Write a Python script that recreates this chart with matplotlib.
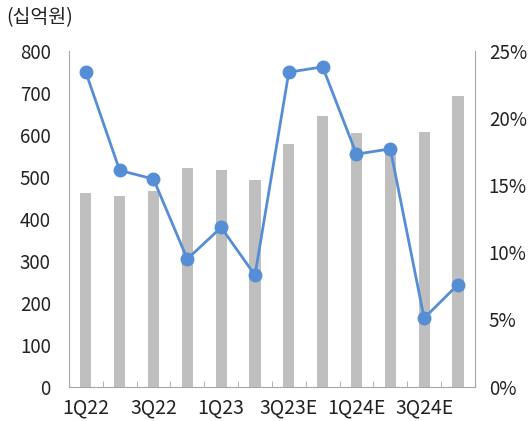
import matplotlib.pyplot as plt
import numpy as np

plt.rcParams['font.family'] = ['Noto Sans CJK KR', 'DejaVu Sans']

quarters = ['1Q22', '2Q22', '3Q22', '4Q22', '1Q23', '2Q23',
            '3Q23E', '4Q23E', '1Q24E', '2Q24E', '3Q24E', '4Q24E']
# 매출 (십억원)
sales = [462, 453, 467, 520, 516, 491, 578, 644, 605, 570, 607, 693]
# 이익률 (%)
margin = [23.4, 16.1, 15.45, 9.5, 11.85, 8.3, 23.4, 23.8, 17.3, 17.7, 5.1, 7.6]

x = np.arange(len(quarters))
gray = '#a6a6a6'

fig = plt.figure(figsize=(5.30, 4.21), dpi=100)
ax = fig.add_axes([0.130, 0.0815, 0.766, 0.798])
ax.bar(x, sales, width=0.33, color='#bfbfbf', zorder=2)
ax.set_xlim(-0.5, len(quarters) - 0.5)
ax.set_ylim(0, 800)
ax.set_yticks(range(0, 801, 100))

ax.set_xticks(x[::2])
ax.set_xticklabels(quarters[::2], fontsize=14)
ax.set_xticks(np.arange(-0.5, len(quarters), 1.0), minor=True)
ax.tick_params(axis='x', which='major', length=0, pad=8)
ax.tick_params(axis='x', which='minor', direction='in', length=4, color=gray)
ax.tick_params(axis='y', length=0, pad=13, labelsize=13.5)
ax.tick_params(labelcolor='#222222')

for s in ['top', 'right']:
    ax.spines[s].set_visible(False)
for s in ['left', 'bottom']:
    ax.spines[s].set_color(gray)

ax2 = ax.twinx()
ax2.plot(x, margin, color='#558ed5', lw=2, marker='o', markersize=9, zorder=3)
ax2.set_ylim(0, 25)
ax2.set_yticks(range(0, 26, 5))
ax2.set_yticklabels([f'{v}%' for v in range(0, 26, 5)])
ax2.tick_params(axis='y', length=0, pad=10, labelsize=13.5, labelcolor='#222222')
for s in ['top', 'left', 'bottom']:
    ax2.spines[s].set_visible(False)
ax2.spines['right'].set_color(gray)

fig.text(0.012, 0.957, '(십억원)', fontsize=14, color='#222222', va='center')

fig.savefig('out.png', dpi=100)
